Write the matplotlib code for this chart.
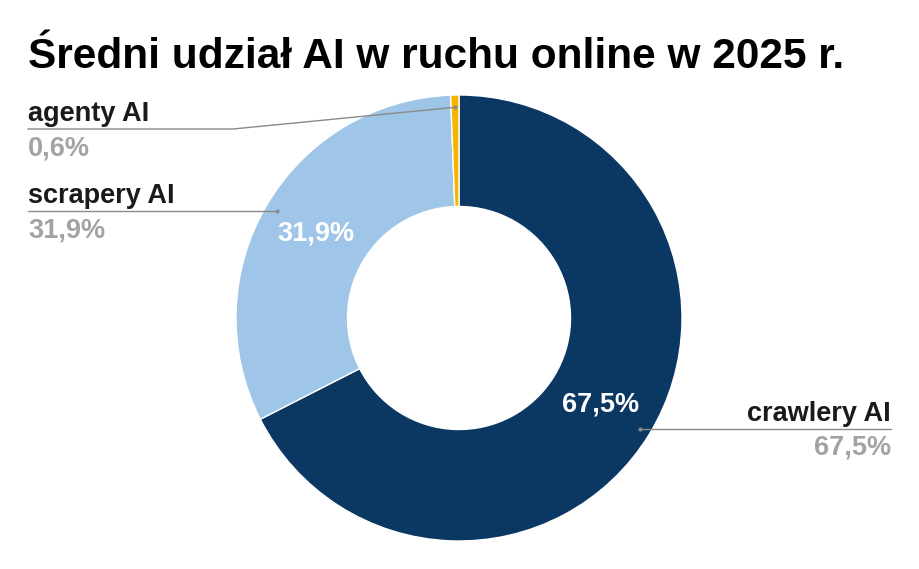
import numpy as np
import matplotlib.pyplot as plt

TITLE = "Średni udział AI w ruchu online w 2025 r."
CATEGORIES = ["crawlery AI", "scrapery AI", "agenty AI"]
SHARES = [67.5, 31.9, 0.6]
PCT_LABELS = ["67,5%", "31,9%", "0,6%"]
COLORS = ["#0b3763", "#9fc5e8", "#f4b400"]

W, H = 920, 569
CX, CY, R = 459, H - 318, 223

plt.rcParams["font.family"] = ["Liberation Sans", "DejaVu Sans"]

fig = plt.figure(figsize=(W / 100, H / 100), dpi=100)
ax = fig.add_axes([0, 0, 1, 1])

wedges, _ = ax.pie(
    SHARES,
    colors=COLORS,
    startangle=90,
    counterclock=False,
    center=(CX, CY),
    radius=R,
    wedgeprops=dict(width=R * 0.5, edgecolor="white", linewidth=1),
)
ax.set_xlim(0, W)
ax.set_ylim(0, H)
ax.set_aspect("equal")
ax.axis("off")


def point(angle_deg, frac):
    a = np.deg2rad(angle_deg)
    return CX + frac * R * np.cos(a), CY + frac * R * np.sin(a)


mids = [(w.theta1 + w.theta2) / 2 for w in wedges]

# percentages inside the big slices
for i in (0, 1):
    x, y = point(mids[i], 0.745)
    ax.text(x, y, PCT_LABELS[i], color="white", fontsize=19.5, fontweight="bold",
            ha="center", va="center")

line_kw = dict(color="#8a8a8a", linewidth=1)
lbl_kw = dict(fontsize=19.5, fontweight="bold")

# crawlery: label on the right
x0, y0 = point(mids[0], 0.95)
ax.plot([x0, 891], [y0, y0], **line_kw)
ax.plot(x0, y0, "o", color="#8a8a8a", markersize=2)
ax.text(891, y0 + 8, CATEGORIES[0], color="#1a1a1a", ha="right", va="baseline", **lbl_kw)
ax.text(891, y0 - 26, PCT_LABELS[0], color="#a3a3a3", ha="right", va="baseline", **lbl_kw)

# scrapery: label on the left
x1, y1 = point(mids[1], 0.945)
ax.plot([28, x1], [y1, y1], **line_kw)
ax.plot(x1, y1, "o", color="#8a8a8a", markersize=2)
ax.text(28, y1 + 8, CATEGORIES[1], color="#1a1a1a", ha="left", va="baseline", **lbl_kw)
ax.text(28, y1 - 26, PCT_LABELS[1], color="#a3a3a3", ha="left", va="baseline", **lbl_kw)

# agenty: bent leader line to the left
x2, y2 = point(mids[2], 0.945)
ly = H - 129
ax.plot([28, 233, x2], [ly, ly, y2], **line_kw)
ax.plot(x2, y2, "o", color="#8a8a8a", markersize=2)
ax.text(28, ly + 8, CATEGORIES[2], color="#1a1a1a", ha="left", va="baseline", **lbl_kw)
ax.text(28, ly - 26, PCT_LABELS[2], color="#a3a3a3", ha="left", va="baseline", **lbl_kw)

ax.text(28, H - 68, TITLE, fontsize=30.5, fontweight="bold", color="black",
        ha="left", va="baseline")

fig.savefig("out.png", dpi=100)
plt.close(fig)
